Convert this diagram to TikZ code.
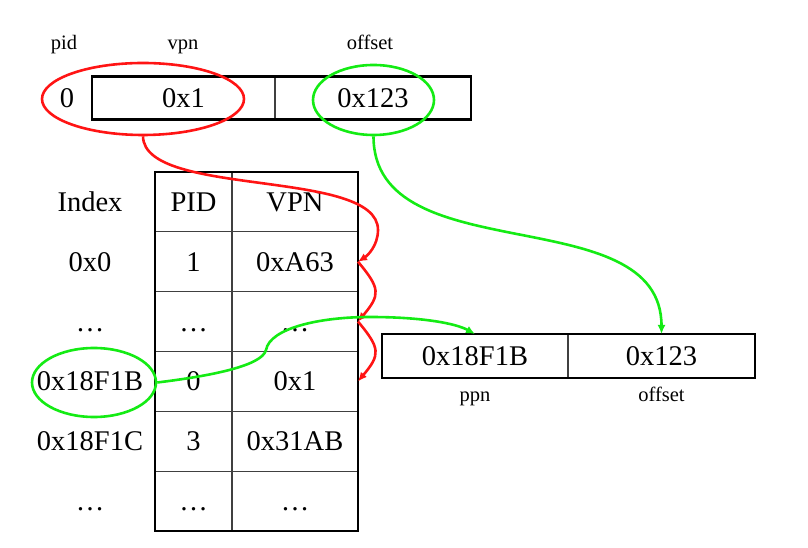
\documentclass[tikz,border=0pt]{standalone}
\usepackage{fontspec}
\setmainfont{Liberation Serif}
\usetikzlibrary{positioning,shapes.geometric,arrows.meta}
\definecolor{hlred}{RGB}{255,20,20}
\definecolor{hlgreen}{RGB}{20,235,20}

\begin{document}
\begin{tikzpicture}[x=1pt,y=1pt,>={Latex[length=9pt,width=8pt]},
  big/.style={font=\fontsize{28.5}{32}\selectfont,text height=19pt,text depth=0pt,inner sep=0pt},
  small/.style={font=\fontsize{20.5}{24}\selectfont,text height=14pt,text depth=4.5pt,inner sep=0pt},
  cell/.style={big,draw=black!75,line width=1.2pt,minimum height=59.83pt,outer sep=0pt},
  pidcell/.style={cell,minimum width=77pt},
  vpncell/.style={cell,minimum width=126pt},
  boxcell/.style={big,draw=black!75,line width=1.2pt,minimum height=43pt,outer sep=0pt},
  ring/.style={ellipse,draw,line width=2.6pt,inner sep=0pt},
  link/.style={line width=2.6pt,->}]
\useasboundingbox (0,0) rectangle (808,548);
% virtual address
\node[small] (pidlab) at (64,503) {pid};
\node[small] (vpnlab) at (183,503) {vpn};
\node[small] (offlab) at (370,503) {offset};
\node[big] (pida) at (67,450) {0};
\node[boxcell,minimum width=183pt] (va) at (183.5,450) {0x1};
\node[boxcell,minimum width=196pt,right=0pt of va] (oa) {0x123};
\draw[line width=2.5pt] (va.north west) rectangle (oa.south east);
% inverted page table
\node[big] (ih) at (90,346.1) {Index};
\node[big] (i1) at (90,286.3) {0x0};
\node[big] (i2) at (90,226.4) {\ldots};
\node[big] (i3) at (90,166.6) {0x18F1B};
\node[big] (i4) at (90,106.8) {0x18F1C};
\node[big] (i5) at (90,46.9) {\ldots};
\node[pidcell] (ph) at (193.5,346.1) {PID};
\node[vpncell,right=0pt of ph] (vh) {VPN};
\node[pidcell,below=0pt of ph] (p1) {1};
\node[vpncell,below=0pt of vh] (v1) {0xA63};
\node[pidcell,below=0pt of p1] (p2) {\ldots};
\node[vpncell,below=0pt of v1] (v2) {\ldots};
\node[pidcell,below=0pt of p2] (p3) {0};
\node[vpncell,below=0pt of v2] (v3) {0x1};
\node[pidcell,below=0pt of p3] (p4) {3};
\node[vpncell,below=0pt of v3] (v4) {0x31AB};
\node[pidcell,below=0pt of p4] (p5) {\ldots};
\node[vpncell,below=0pt of v4] (v5) {\ldots};
\draw[line width=2.5pt] (ph.north west) rectangle (v5.south east);
% physical address
\node[boxcell,minimum width=186pt,minimum height=44pt] (ppn) at (475,192) {0x18F1B};
\node[boxcell,minimum width=187pt,minimum height=44pt,right=0pt of ppn] (poff) {0x123};
\draw[line width=2.5pt] (ppn.north west) rectangle (poff.south east);
\node[small] (ppnlab) at (475,151) {ppn};
\node[small] (pofflab) at (661.5,151) {offset};
% rings
\node[ring,draw=hlred,minimum width=202pt,minimum height=72pt] (redring) at (143,449) {};
\node[ring,draw=hlgreen,minimum width=121pt,minimum height=70pt] (offring) at (373.5,448) {};
\node[ring,draw=hlgreen,minimum width=124pt,minimum height=69pt] (ppnring) at (94,165.5) {};
% search and result
\draw[link,hlred] (redring.south) .. controls (144,350) and (378,380) .. (378,318) .. controls (378,302) and (367,292) .. (v1.east);
\draw[link,hlred] (v1.east) to[out=-50,in=50,looseness=1.5] (v2.east);
\draw[link,hlred] (v2.east) to[out=-50,in=50,looseness=1.5] (v3.east);
\draw[link,hlgreen] (offring.south) to[out=-90,in=90] (poff.north);
\draw[link,hlgreen] (ppnring.east) .. controls (210,172) and (262,182) .. (266,198) .. controls (270,220) and (320,231) .. (370,231) .. controls (420,231) and (455,225) .. (ppn.north);
\end{tikzpicture}
\end{document}
